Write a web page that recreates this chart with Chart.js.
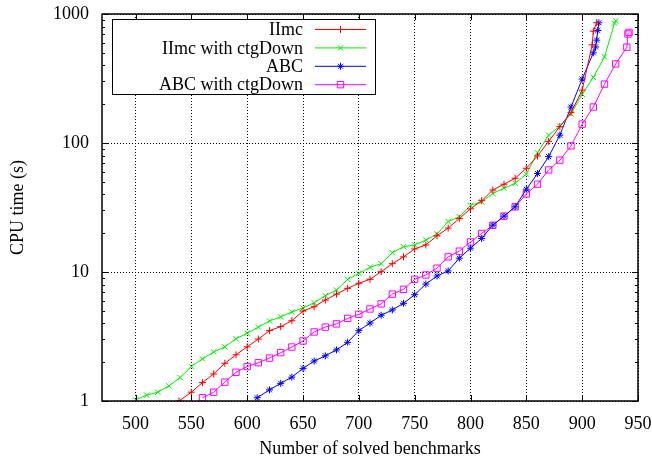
<!DOCTYPE html>
<html>
<head>
<meta charset="utf-8">
<script src="https://cdn.jsdelivr.net/npm/chart.js@4.4.0/dist/chart.umd.min.js"></script>
<style>
  html, body { margin: 0; padding: 0; background: #fff; }
</style>
</head>
<body>
<canvas id="cpuChart" width="652" height="460"></canvas>
<script>
// axis ticks
var xTicks = [500, 550, 600, 650, 700, 750, 800, 850, 900, 950];
var yTicks = [1, 10, 100, 1000];

// IImc
var iimcX = [539, 550, 560, 570, 580, 590, 600, 610, 620, 630, 640, 650, 660, 670, 680, 690, 700, 710, 720, 730,
  740, 750, 760, 770, 780, 790, 800, 810, 820, 830, 840, 850, 860, 870, 880, 890, 900, 909, 910, 913];
var iimcY = [1.0, 1.17, 1.39, 1.62, 1.96, 2.28, 2.63, 3.02, 3.51, 3.77, 4.19, 4.98, 5.38, 6.06, 6.74, 7.47, 8.17, 8.77, 10.05, 11.6,
  13.1, 15.1, 16.2, 19.1, 21.9, 26.0, 30.9, 35.7, 43.2, 47.9, 53.3, 63.7, 79.3, 103, 134, 172, 257, 578, 736, 857];

// IImc with ctgDown
var iimcCtgX = [500, 510, 520, 530, 540, 550, 560, 570, 580, 590, 600, 610, 620, 630, 640, 650, 660, 670, 680, 690,
  700, 710, 720, 730, 740, 750, 760, 770, 780, 790, 800, 810, 820, 830, 840, 850, 860, 870, 880, 890, 900, 910, 920, 929, 930];
var iimcCtgY = [1.02, 1.11, 1.17, 1.31, 1.52, 1.85, 2.12, 2.4, 2.63, 3.04, 3.35, 3.74, 4.17, 4.49, 4.9, 5.26, 5.78, 6.55, 7.24, 8.77,
  9.75, 10.87, 11.6, 14.1, 15.7, 16.2, 17.7, 19.7, 24.6, 26.8, 32.9, 35.0, 40.6, 44.6, 48.7, 57.4, 84, 115, 135, 168, 239, 323, 465, 850, 885];

// ABC
var abcX = [609, 620, 630, 640, 650, 660, 670, 680, 690, 700, 710, 720, 730, 740, 750, 760, 770, 780, 790, 800,
  810, 820, 830, 840, 850, 860, 870, 880, 890, 900, 910, 912, 913, 914, 915];
var abcY = [1.06, 1.22, 1.37, 1.53, 1.79, 2.04, 2.24, 2.49, 2.85, 3.51, 4.02, 4.62, 5.08, 5.72, 6.67, 8.06, 9.31, 10.2, 12.8, 15.3,
  18.2, 23.1, 27.1, 32.0, 43.8, 58, 78.4, 115, 190, 313, 500, 555, 627, 745, 855];

// ABC with ctgDown
var abcCtgX = [560, 570, 580, 590, 600, 610, 620, 630, 640, 650, 660, 670, 680, 690, 700, 710, 720, 730, 740, 750,
  760, 770, 780, 790, 800, 810, 820, 830, 840, 850, 860, 870, 880, 890, 900, 910, 920, 930, 940, 941, 942];
var abcCtgY = [1.06, 1.17, 1.40, 1.67, 1.85, 1.98, 2.15, 2.37, 2.62, 2.92, 3.43, 3.74, 3.96, 4.37, 4.7, 5.17, 5.66, 6.74, 7.34, 8.77,
  9.49, 10.7, 13.1, 14.5, 17.1, 19.9, 23.0, 27.1, 32.0, 40.3, 47.9, 61.8, 73.6, 95, 140, 190, 286, 410, 553, 700, 720];

function toPoints(xs, ys) {
  return xs.map(function (x, i) { return { x: x, y: ys[i] }; });
}

function series(label, color, style, radius, xs, ys) {
  return {
    label: label,
    data: toPoints(xs, ys),
    borderColor: color,
    backgroundColor: 'rgba(0,0,0,0)',
    borderWidth: 1,
    pointStyle: style,
    pointRadius: radius,
    pointBorderColor: color,
    pointBackgroundColor: 'rgba(0,0,0,0)',
    pointBorderWidth: 1,
    tension: 0
  };
}

var FONT = "'Liberation Serif', 'Times New Roman', serif";
Chart.defaults.font.family = FONT;
Chart.defaults.font.size = 18;
Chart.defaults.color = '#000';

// gnuplot-like key: text right aligned, sample line + marker on the right
var keyBox = {
  id: 'keyBox',
  afterDatasetsDraw: function (chart) {
    var ctx = chart.ctx;
    ctx.save();
    ctx.fillStyle = '#fff';
    ctx.fillRect(112.5, 19.5, 263, 75);
    ctx.strokeStyle = '#000';
    ctx.lineWidth = 1;
    ctx.strokeRect(112.5, 19.5, 263, 75);
    ctx.font = '18px ' + FONT;
    ctx.textAlign = 'right';
    ctx.textBaseline = 'middle';
    chart.data.datasets.forEach(function (ds, i) {
      var y = 29.5 + i * 18.4;
      ctx.fillStyle = '#000';
      ctx.fillText(ds.label, 303, y + 1);
      ctx.strokeStyle = ds.borderColor;
      ctx.lineWidth = 1;
      ctx.beginPath();
      ctx.moveTo(315, y);
      ctx.lineTo(366, y);
      ctx.stroke();
      ctx.fillStyle = 'rgba(0,0,0,0)';
      Chart.helpers.drawPoint(ctx, {
        pointStyle: ds.pointStyle, radius: ds.pointRadius, borderWidth: 1, rotation: 0
      }, 340.5, y);
    });
    ctx.restore();
  },
  afterDraw: function (chart) {
    var ctx = chart.ctx, a = chart.chartArea;
    var xs = chart.scales.x, ys = chart.scales.y;
    ctx.save();
    ctx.strokeStyle = '#000';
    ctx.lineWidth = 1;
    ctx.beginPath();
    xTicks.forEach(function (v) {
      var px = Math.round(xs.getPixelForValue(v)) + 0.5;
      ctx.moveTo(px, a.bottom); ctx.lineTo(px, a.bottom - 6);
      ctx.moveTo(px, a.top); ctx.lineTo(px, a.top + 6);
    });
    [1, 10, 100].forEach(function (d) {
      for (var m = 1; m <= 10; m++) {
        var py = Math.round(ys.getPixelForValue(d * m)) + 0.5;
        var len = (m === 1 || m === 10) ? 6 : 3;
        ctx.moveTo(a.left, py); ctx.lineTo(a.left + len, py);
        ctx.moveTo(a.right, py); ctx.lineTo(a.right - len, py);
      }
    });
    ctx.stroke();
    ctx.lineWidth = 1.5;
    ctx.strokeRect(a.left, a.top, a.right - a.left, a.bottom - a.top);
    ctx.restore();
  }
};

var ctx = document.getElementById('cpuChart').getContext('2d');
var chart = new Chart(ctx, {
  type: 'line',
  data: {
    datasets: [
      series('IImc', '#ff0000', 'cross', 3.5, iimcX, iimcY),
      series('IImc with ctgDown', '#00ee00', 'crossRot', 3.8, iimcCtgX, iimcCtgY),
      series('ABC', '#0000ff', 'star', 3.5, abcX, abcY),
      series('ABC with ctgDown', '#ff00ff', 'rect', 4.5, abcCtgX, abcCtgY)
    ]
  },
  plugins: [keyBox],
  options: {
    responsive: false,
    animation: false,
    layout: { padding: { left: 0, right: 14, top: 14, bottom: 0 } },
    plugins: { legend: { display: false }, tooltip: { enabled: false } },
    scales: {
      x: {
        type: 'linear',
        min: 470,
        max: 950,
        afterBuildTicks: function (s) { s.ticks = xTicks.map(function (v) { return { value: v }; }); },
        afterFit: function (s) { s.height = 59; s.paddingLeft = 0; s.paddingRight = 0; },
        ticks: { padding: 12, maxRotation: 0, autoSkip: false },
        grid: { color: '#000', lineWidth: 1, drawTicks: false },
        border: { display: false, dash: [1, 2] },
        title: { display: true, text: 'Number of solved benchmarks', padding: { top: 0, bottom: 0 } }
      },
      y: {
        type: 'logarithmic',
        min: 1,
        max: 1000,
        afterBuildTicks: function (s) { s.ticks = yTicks.map(function (v) { return { value: v }; }); },
        afterFit: function (s) { s.width = 102; s.paddingTop = 0; s.paddingBottom = 0; },
        ticks: { padding: 13, callback: function (v) { return String(v); } },
        grid: { color: '#000', lineWidth: 1, drawTicks: false },
        border: { display: false, dash: [1, 2] },
        title: { display: true, text: 'CPU time (s)', padding: { top: 7, bottom: 0 } }
      }
    }
  }
});
</script>
</body>
</html>
